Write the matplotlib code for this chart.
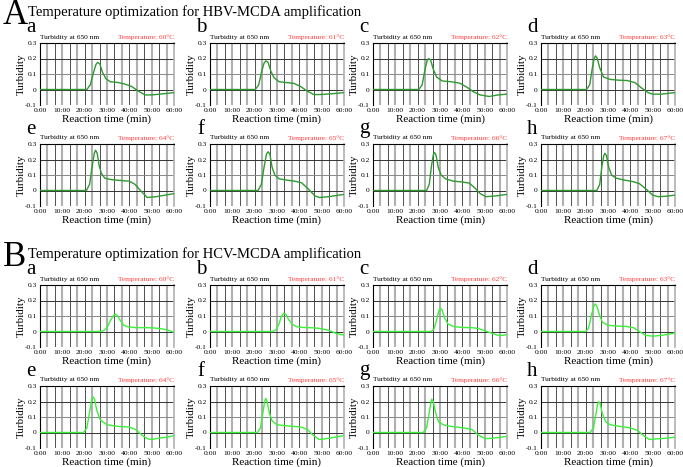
import numpy as np
import matplotlib
matplotlib.use('Agg')
import matplotlib.pyplot as plt

plt.rcParams['font.family'] = ['Liberation Serif', 'DejaVu Serif']

W, H = 683, 467

# ---- data (time in min, turbidity) ----
panel_letters = ['a', 'b', 'c', 'd', 'e', 'f', 'g', 'h']
temps = [60, 61, 62, 63, 64, 65, 66, 67]
xtick_vals = [0, 10, 20, 30, 40, 50, 60]
xtick_labels = ['0:00', '10:00', '20:00', '30:00', '40:00', '50:00', '60:00']
ytick_vals = [-0.1, 0, 0.1, 0.2, 0.3]
ytick_labels = ['-0.1', '0', '0.1', '0.2', '0.3']

# HBV-MCDA
hbv60_t = [0, 21, 22.5, 24, 25, 25.8, 26.8, 28, 29.5, 31.5, 35, 38, 41, 44, 47, 50, 55, 60]
hbv60_y = [0, 0, 0.03, 0.11, 0.16, 0.175, 0.165, 0.11, 0.07, 0.05, 0.045, 0.035, 0.02, -0.01, -0.035, -0.035, -0.028, -0.02]
hbv61_t = [0, 20.3, 21.8, 23.2, 24.2, 25, 26, 27.2, 28.7, 31, 34, 37.5, 40.5, 43.5, 46.5, 50, 55, 60]
hbv61_y = [0, 0, 0.03, 0.12, 0.17, 0.185, 0.175, 0.12, 0.075, 0.05, 0.045, 0.04, 0.02, -0.01, -0.033, -0.032, -0.027, -0.02]
hbv62_t = [0, 20.5, 22, 23.3, 24.2, 24.9, 25.8, 27, 28.5, 31, 35, 39, 42, 45, 48, 52, 56, 60]
hbv62_y = [0, 0, 0.03, 0.13, 0.185, 0.2, 0.19, 0.13, 0.08, 0.055, 0.05, 0.04, 0.015, -0.015, -0.035, -0.045, -0.035, -0.03]
hbv63_t = [0, 20.4, 21.8, 23, 23.8, 24.4, 25.2, 26.3, 28, 31, 35, 38.5, 42, 45, 48, 50, 54, 60]
hbv63_y = [0, 0, 0.03, 0.14, 0.2, 0.217, 0.2, 0.14, 0.08, 0.065, 0.06, 0.058, 0.045, 0.01, -0.02, -0.03, -0.03, -0.02]
hbv64_t = [0, 20.8, 22.2, 23.4, 24.3, 24.9, 25.6, 26.5, 27.5, 29, 32, 36, 40, 42.5, 45, 48, 52, 56, 60]
hbv64_y = [0, 0, 0.04, 0.16, 0.24, 0.26, 0.24, 0.16, 0.11, 0.08, 0.07, 0.065, 0.06, 0.04, 0.0, -0.045, -0.04, -0.03, -0.02]
hbv65_t = [0, 21.5, 23, 24.2, 25.3, 26, 26.8, 27.8, 29, 31, 34, 38, 41, 44, 47, 49, 53, 60]
hbv65_y = [0, 0, 0.04, 0.15, 0.235, 0.25, 0.235, 0.15, 0.1, 0.075, 0.068, 0.06, 0.05, 0.01, -0.035, -0.045, -0.04, -0.025]
hbv66_t = [0, 24, 25.2, 26.2, 27, 27.5, 28.2, 29.2, 30.5, 32.5, 36, 40, 43, 45, 48, 50.5, 55, 60]
hbv66_y = [0, 0, 0.04, 0.16, 0.23, 0.245, 0.23, 0.15, 0.1, 0.075, 0.06, 0.055, 0.048, 0.025, -0.02, -0.04, -0.035, -0.025]
hbv67_t = [0, 25, 26.3, 27.3, 28.1, 28.6, 29.3, 30.3, 31.6, 33.5, 37, 41, 44, 47, 50, 52.5, 56, 60]
hbv67_y = [0, 0, 0.04, 0.16, 0.225, 0.24, 0.225, 0.15, 0.1, 0.08, 0.068, 0.058, 0.045, 0.01, -0.03, -0.04, -0.037, -0.03]

# HCV-MCDA
hcv60_t = [0, 27, 28.5, 30, 31.5, 33, 33.8, 34.8, 36, 37.5, 39.5, 43, 47, 51, 54, 56.5, 58.5, 60]
hcv60_y = [0, 0, 0.005, 0.025, 0.07, 0.105, 0.112, 0.1, 0.07, 0.04, 0.03, 0.025, 0.025, 0.023, 0.018, 0.012, 0.003, -0.005]
hcv61_t = [0, 28, 29.5, 30.8, 32, 33, 34, 35.3, 37, 39, 42, 46, 49, 52, 54.5, 56.5, 58.5, 60]
hcv61_y = [0, 0, 0.01, 0.045, 0.1, 0.118, 0.11, 0.075, 0.045, 0.03, 0.026, 0.024, 0.02, 0.012, 0.0, -0.012, -0.02, -0.022]
hcv62_t = [0, 26, 27.3, 28.4, 29.4, 30.1, 30.9, 32, 33.5, 36, 40, 44, 47, 50, 53, 56, 58, 60]
hcv62_y = [0, 0, 0.015, 0.07, 0.13, 0.15, 0.14, 0.09, 0.05, 0.032, 0.026, 0.025, 0.02, 0.005, -0.01, -0.025, -0.025, -0.02]
hcv63_t = [0, 20, 21.3, 22.5, 23.6, 24.3, 25, 26.1, 27.5, 30, 34, 38, 41.4, 44, 47, 50, 54, 60]
hcv63_y = [0, 0, 0.02, 0.1, 0.16, 0.178, 0.165, 0.11, 0.06, 0.04, 0.035, 0.033, 0.025, 0.0, -0.025, -0.03, -0.025, -0.01]
hcv64_t = [0, 19.5, 21, 22.3, 23.2, 23.7, 24.4, 25.5, 27, 30, 34.5, 39.8, 42.8, 45.5, 48, 50, 54, 57, 60]
hcv64_y = [0, 0, 0.03, 0.14, 0.21, 0.23, 0.215, 0.14, 0.08, 0.05, 0.04, 0.035, 0.02, -0.015, -0.04, -0.045, -0.035, -0.03, -0.02]
hcv65_t = [0, 21.2, 22.6, 23.7, 24.5, 24.9, 25.5, 26.5, 27.8, 30, 33, 40.6, 43.6, 46, 48.8, 51, 54, 60]
hcv65_y = [0, 0, 0.03, 0.13, 0.2, 0.22, 0.205, 0.13, 0.075, 0.05, 0.045, 0.035, 0.02, -0.015, -0.045, -0.042, -0.035, -0.02]
hcv66_t = [0, 22.5, 24, 25.2, 26, 26.3, 27, 28, 29.3, 31.5, 34.5, 40.5, 44.3, 47, 50.3, 53, 56, 60]
hcv66_y = [0, 0, 0.03, 0.13, 0.2, 0.215, 0.2, 0.13, 0.07, 0.05, 0.04, 0.03, 0.02, -0.015, -0.04, -0.037, -0.033, -0.025]
hcv67_t = [0, 22, 23.5, 24.6, 25.4, 25.8, 26.5, 27.5, 29, 31, 35, 40, 43, 46, 48.5, 51, 55, 60]
hcv67_y = [0, 0, 0.03, 0.12, 0.185, 0.2, 0.185, 0.12, 0.07, 0.05, 0.04, 0.03, 0.015, -0.02, -0.045, -0.042, -0.038, -0.03]

hbv_curves = [(hbv60_t, hbv60_y), (hbv61_t, hbv61_y), (hbv62_t, hbv62_y), (hbv63_t, hbv63_y),
              (hbv64_t, hbv64_y), (hbv65_t, hbv65_y), (hbv66_t, hbv66_y), (hbv67_t, hbv67_y)]
hcv_curves = [(hcv60_t, hcv60_y), (hcv61_t, hcv61_y), (hcv62_t, hcv62_y), (hcv63_t, hcv63_y),
              (hcv64_t, hcv64_y), (hcv65_t, hcv65_y), (hcv66_t, hcv66_y), (hcv67_t, hcv67_y)]

# ---- layout (pixels) ----
col_left = [40, 210, 373, 541]
ax_w, ax_h = 134, 62
row_top = [43, 144, 285, 386]


def panel(left, top, t, y, color, letter, temp):
    ax = fig.add_axes([left / W, 1 - (top + ax_h) / H, ax_w / W, ax_h / H])
    ax.set_xlim(0, 60)
    ax.set_ylim(-0.1, 0.3)
    # grid: vertical every 200 s, alternating grey / black
    for i, gx in enumerate(np.arange(0, 60.01, 10 / 3)):
        if i % 2:
            ax.axvline(gx, color='#b0b0b0', lw=1.5, zorder=1)
        else:
            ax.axvline(gx, color='#333333', lw=0.6, zorder=1)
    for gy, c in [(0.2, '#333333'), (0.1, '#888888'), (0.0, '#333333')]:
        ax.axhline(gy, color=c, lw=0.7, zorder=1)
    ax.plot(t, y, color=color, lw=1.0, zorder=3)
    ax.spines['bottom'].set_visible(False)
    ax.spines['left'].set_linewidth(0.8)
    ax.spines['top'].set_linewidth(0.8)
    ax.spines['right'].set_color('#b0b0b0')
    ax.spines['right'].set_linewidth(1.2)
    ax.set_xticks(xtick_vals)
    ax.set_xticklabels(xtick_labels)
    ax.set_yticks(ytick_vals)
    ax.set_yticklabels(ytick_labels)
    ax.tick_params(length=0, labelsize=5.4, pad=2.2)
    ax.tick_params(axis='x', pad=2)
    ax.text(0.5, -14 / ax_h, 'Reaction time (min)', transform=ax.transAxes,
            ha='center', va='center', fontsize=8)
    ax.text(-19 / ax_w, 0.5, 'Turbidity', transform=ax.transAxes, rotation=90,
            ha='center', va='center', fontsize=7.8)
    ax.text(0, 1 + 6 / ax_h, 'Turbidity at 650 nm', transform=ax.transAxes,
            ha='left', va='center', fontsize=5.3)
    ax.text(1, 1 + 6 / ax_h, 'Temperature: %d°C' % temp, transform=ax.transAxes,
            ha='right', va='center', fontsize=5.3, color='#ff3b3b')
    ax.text(-9 / ax_w, 1 + 15 / ax_h, letter, transform=ax.transAxes,
            ha='center', va='center', fontsize=15)
    return ax


fig = plt.figure(figsize=(W / 100, H / 100), dpi=100)

sections = [('A', 'Temperature optimization for HBV-MCDA amplification', hbv_curves, '#2e9a30', 0),
            ('B', 'Temperature optimization for HCV-MCDA amplification', hcv_curves, '#3cf03c', 2)]

for big, title, curves, color, r0 in sections:
    ytop = row_top[r0]
    fig.text(15 / W, 1 - (ytop - 27) / H, big, fontsize=25, ha='center', va='center')
    fig.text(28 / W, 1 - (ytop - 31) / H, title, fontsize=10.5, ha='left', va='center')
    for k in range(8):
        r = r0 + k // 4
        c = k % 4
        t, y = curves[k]
        panel(col_left[c], row_top[r], t, y, color, panel_letters[k], temps[k])

fig.savefig('out.png', dpi=100)
